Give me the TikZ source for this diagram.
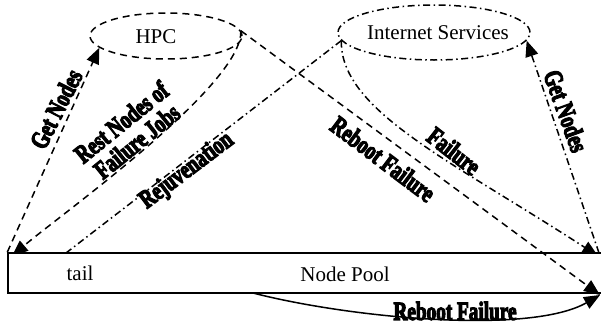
\documentclass[tikz,border=0pt]{standalone}
\usepackage{fontspec}
\setmainfont{Liberation Serif}
\newfontfamily\heavyfont{Liberation Serif}[UprightFont={* Bold}, FakeBold=5]
\usetikzlibrary{arrows.meta, shapes.geometric, backgrounds}
\newcommand{\narrowtext}[1]{\scalebox{0.74}[1]{#1}}

\begin{document}
\begin{tikzpicture}[
  x=1pt, y=-1pt,
  >={Triangle[length=16pt, width=13pt]},
  lnk/.style={line width=1.5pt, dash pattern=on 7pt off 5pt},
  dlnk/.style={line width=1.5pt, dash pattern=on 7pt off 3.5pt on 1.5pt off 3.5pt},
  jobset/.style={ellipse, draw, line width=1.5pt, inner sep=0pt},
  plain/.style={font=\fontsize{21}{24}\selectfont, inner sep=0pt},
  tag/.style={font=\heavyfont\fontsize{26}{22}\selectfont, inner sep=0pt}
]
\useasboundingbox (0,0) rectangle (601,327);

% job classes on top, node pool below
\node[jobset, lnk, minimum width=152pt, minimum height=46pt] (hpc) at (166,36) {};
\node[plain] (hpctxt) at (156,37) {HPC};
\node[jobset, dlnk, minimum width=192pt, minimum height=55pt] (inet) at (434,32.5) {};
\node[plain] (inettxt) at (438,33) {Internet Services};

\node[draw, line width=1.5pt, fill=white, minimum width=598pt, minimum height=40pt, inner sep=0pt] (pool) at (307,273) {};
\node[plain] (tail) at (80,273) {tail};
\node[plain] (pooltxt) at (345,274) {Node Pool};

\coordinate (restin) at (12,256);
\coordinate (rejin) at (66,253);
\coordinate (failin) at (598,256);
\coordinate (poolout) at (599,253);
\coordinate (bootout) at (253,293);
\coordinate (bootin) at (600,295);

% these run under the pool box
\begin{scope}[on background layer]
\draw[lnk, ->] (hpc.4) .. controls (243,85) and (60,215) .. (restin);
\draw[dlnk, ->] (inet.185) .. controls (340,110) and (450,160) .. (failin);
\draw[dlnk] (inet.185) -- (rejin);
\end{scope}

\draw[lnk, ->] (pool.north west) -- (hpc.190);
\draw[dlnk, ->] (poolout) -- (inet.355);
\draw[lnk, ->] (hpc.4) -- (bootin);
\draw[line width=1.5pt, ->] (bootout) .. controls (350,318) and (530,335) .. (bootin);

% labels
\node[tag, rotate=63] (getl) at (56,109) {\narrowtext{Get Nodes}};
\node[tag, rotate=39] (rest) at (131,134) {\narrowtext{\begin{tabular}{@{}c@{}}Rest Nodes of\\Failure Jobs\end{tabular}}};
\node[tag, rotate=37] (rejuv) at (187,171) {\narrowtext{Rejuvenation}};
\node[tag, rotate=-37] (rebootup) at (383,159) {\narrowtext{Reboot Failure}};
\node[tag, rotate=-38] (fail) at (454,151) {\narrowtext{Failure}};
\node[tag, rotate=-70] (getr) at (566,111) {\narrowtext{Get Nodes}};
\node[tag] (rebootlow) at (455,311) {\narrowtext{Reboot Failure}};

\end{tikzpicture}
\end{document}
